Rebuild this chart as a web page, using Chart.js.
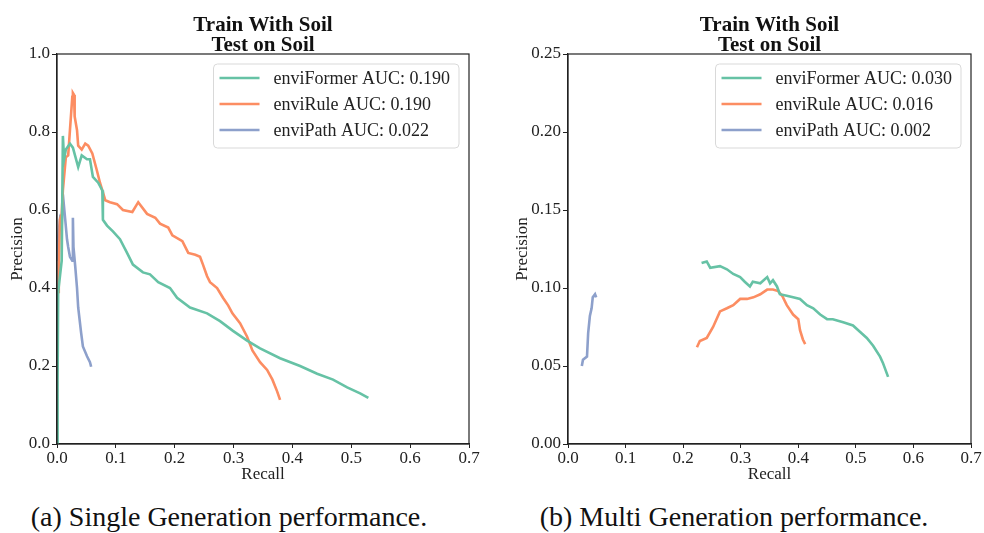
<!DOCTYPE html>
<html lang="en">
<head>
    <meta charset="UTF-8">
    <title>Train With Soil / Test on Soil</title>
    <script src="https://cdn.jsdelivr.net/npm/chart.js"></script>
    <style>
        body {
            margin: 0;
            background: #ffffff;
            width: 984px;
            height: 533px;
            position: relative;
            overflow: hidden;
            font-family: "Liberation Serif", serif;
        }
        canvas {
            position: absolute;
            top: 0;
        }
        #leftChart { left: 0; }
        #rightChart { left: 492px; }
        .caption {
            position: absolute;
            top: 503px;
            font-size: 28px;
            line-height: 28px;
            text-align: center;
            color: #111;
            white-space: nowrap;
        }
    </style>
</head>
<body>
    <canvas id="leftChart" width="492" height="490"></canvas>
    <canvas id="rightChart" width="492" height="490"></canvas>
    <div class="caption" style="left:0; width:458px;">(a) Single Generation performance.</div>
    <div class="caption" style="left:492px; width:484px;">(b) Multi Generation performance.</div>

    <script>
        // ---- tick labels ----
        const xTicks = [0, 0.1, 0.2, 0.3, 0.4, 0.5, 0.6, 0.7];
        const xTickLabels = ['0.0', '0.1', '0.2', '0.3', '0.4', '0.5', '0.6', '0.7'];
        const singleYTicks = [0, 0.2, 0.4, 0.6, 0.8, 1.0];
        const singleYTickLabels = ['0.0', '0.2', '0.4', '0.6', '0.8', '1.0'];
        const multiYTicks = [0, 0.05, 0.10, 0.15, 0.20, 0.25];
        const multiYTickLabels = ['0.00', '0.05', '0.10', '0.15', '0.20', '0.25'];

        const seriesNames = ['enviFormer', 'enviRule', 'enviPath'];
        const singleAUC = ['0.190', '0.190', '0.022'];
        const multiAUC = ['0.030', '0.016', '0.002'];

        // ---- (a) single generation: recall / precision ----
        const singleFormerRecall = [0, 0.001, 0.002, 0.008, 0.010, 0.012, 0.015, 0.022, 0.027, 0.036, 0.042, 0.051, 0.056, 0.061, 0.070, 0.077, 0.078, 0.085, 0.095, 0.107, 0.119, 0.129, 0.146, 0.158, 0.172, 0.192, 0.204, 0.226, 0.255, 0.277, 0.299, 0.323, 0.345, 0.379, 0.413, 0.442, 0.469, 0.493, 0.515, 0.529];
        const singleFormerPrecision = [0, 0.165, 0.39, 0.47, 0.79, 0.73, 0.755, 0.77, 0.76, 0.71, 0.74, 0.73, 0.73, 0.685, 0.67, 0.65, 0.575, 0.56, 0.545, 0.525, 0.49, 0.46, 0.44, 0.435, 0.415, 0.40, 0.375, 0.35, 0.335, 0.315, 0.29, 0.265, 0.245, 0.22, 0.20, 0.18, 0.165, 0.145, 0.13, 0.118];

        const singleRuleRecall = [0.002, 0.003, 0.005, 0.008, 0.010, 0.015, 0.019, 0.022, 0.026, 0.027, 0.029, 0.030, 0.034, 0.036, 0.042, 0.048, 0.053, 0.060, 0.068, 0.073, 0.082, 0.090, 0.102, 0.112, 0.128, 0.138, 0.153, 0.167, 0.175, 0.189, 0.196, 0.213, 0.223, 0.235, 0.243, 0.248, 0.255, 0.260, 0.272, 0.282, 0.291, 0.298, 0.311, 0.323, 0.332, 0.345, 0.357, 0.366, 0.374, 0.379];
        const singleRulePrecision = [0.39, 0.45, 0.575, 0.59, 0.65, 0.735, 0.74, 0.805, 0.89, 0.90, 0.895, 0.84, 0.805, 0.765, 0.755, 0.77, 0.765, 0.745, 0.70, 0.67, 0.625, 0.62, 0.615, 0.60, 0.595, 0.62, 0.59, 0.58, 0.565, 0.555, 0.535, 0.52, 0.49, 0.485, 0.48, 0.46, 0.43, 0.415, 0.40, 0.375, 0.355, 0.335, 0.31, 0.275, 0.24, 0.21, 0.19, 0.165, 0.135, 0.113];

        const singlePathRecall = [0.002, 0.002, 0.005, 0.008, 0.010, 0.014, 0.017, 0.019, 0.022, 0.026, 0.027, 0.028, 0.031, 0.034, 0.036, 0.041, 0.044, 0.051, 0.056, 0.058];
        const singlePathPrecision = [0.47, 0.53, 0.575, 0.56, 0.64, 0.575, 0.525, 0.505, 0.48, 0.47, 0.58, 0.505, 0.455, 0.40, 0.35, 0.285, 0.25, 0.225, 0.21, 0.198];

        // ---- (b) multi generation: recall / precision ----
        const multiFormerRecall = [0.232, 0.241, 0.247, 0.264, 0.276, 0.287, 0.299, 0.307, 0.316, 0.321, 0.334, 0.346, 0.351, 0.356, 0.363, 0.368, 0.380, 0.391, 0.403, 0.415, 0.426, 0.438, 0.450, 0.460, 0.478, 0.495, 0.507, 0.519, 0.530, 0.542, 0.547, 0.556];
        const multiFormerPrecision = [0.116, 0.117, 0.113, 0.114, 0.112, 0.109, 0.107, 0.104, 0.101, 0.104, 0.103, 0.107, 0.103, 0.105, 0.101, 0.096, 0.095, 0.094, 0.093, 0.089, 0.087, 0.083, 0.080, 0.080, 0.078, 0.076, 0.072, 0.068, 0.063, 0.056, 0.052, 0.043];

        const multiRuleRecall = [0.224, 0.229, 0.241, 0.252, 0.264, 0.276, 0.287, 0.299, 0.311, 0.322, 0.334, 0.346, 0.356, 0.365, 0.372, 0.380, 0.391, 0.400, 0.403, 0.408, 0.412];
        const multiRulePrecision = [0.062, 0.066, 0.068, 0.075, 0.085, 0.087, 0.089, 0.093, 0.093, 0.094, 0.096, 0.099, 0.099, 0.098, 0.095, 0.089, 0.083, 0.080, 0.073, 0.067, 0.064];

        const multiPathRecall = [0.024, 0.026, 0.033, 0.035, 0.038, 0.041, 0.043, 0.047, 0.049];
        const multiPathPrecision = [0.050, 0.054, 0.056, 0.071, 0.082, 0.087, 0.094, 0.096, 0.094];

        const colors = ['#66c2a5', '#fc8d62', '#8da0cb'];
        const FONT = '"Liberation Serif", "DejaVu Serif", serif';
        const INK = '#222';

        function pairs(xs, ys) {
            return xs.map((x, i) => ({ x: x, y: ys[i] }));
        }

        // titles, frame and legend drawn by hand (matplotlib look)
        const decorPlugin = {
            id: 'decor',
            afterDraw(chart, args, opts) {
                const { ctx, chartArea: a } = chart;
                ctx.save();

                // full box around the axes
                ctx.strokeStyle = INK;
                ctx.lineWidth = 1.2;
                ctx.strokeRect(a.left, a.top, a.right - a.left, a.bottom - a.top);

                // two line bold title
                const cx = (a.left + a.right) / 2;
                ctx.fillStyle = '#111';
                ctx.textAlign = 'center';
                ctx.textBaseline = 'alphabetic';
                ctx.font = 'bold 21px ' + FONT;
                ctx.fillText('Train With Soil', cx, 31);
                ctx.fillText('Test on Soil', cx, 51);

                // legend in upper right
                ctx.font = '18px ' + FONT;
                const labels = chart.data.datasets.map(d => d.label);
                const textW = Math.max(...labels.map(t => ctx.measureText(t).width));
                const boxW = 60 + textW + 9;
                const boxH = 84;
                const bx = a.right - 10 - boxW;
                const by = a.top + 10;
                ctx.beginPath();
                ctx.roundRect(bx, by, boxW, boxH, 4);
                ctx.fillStyle = 'rgba(255,255,255,0.85)';
                ctx.fill();
                ctx.strokeStyle = '#d9d9d9';
                ctx.lineWidth = 1;
                ctx.stroke();

                ctx.textAlign = 'left';
                ctx.textBaseline = 'middle';
                chart.data.datasets.forEach((d, i) => {
                    const y = by + 14 + i * 26;
                    ctx.strokeStyle = d.borderColor;
                    ctx.lineWidth = 2.5;
                    ctx.beginPath();
                    ctx.moveTo(bx + 6, y);
                    ctx.lineTo(bx + 46, y);
                    ctx.stroke();
                    ctx.fillStyle = '#222';
                    ctx.fillText(d.label, bx + 60, y + 1);
                });
                ctx.restore();
            }
        };

        function makeChart(canvasId, sets, aucs, yTicks, yTickLabels, yMax, yWidth, padLeft, padRight) {
            const datasets = sets.map((s, i) => ({
                label: seriesNames[i] + ' AUC: ' + aucs[i],
                data: pairs(s[0], s[1]),
                borderColor: colors[i],
                backgroundColor: colors[i],
                borderWidth: 2.6,
                pointRadius: 0,
                showLine: true,
                tension: 0
            }));

            return new Chart(document.getElementById(canvasId), {
                type: 'scatter',
                data: { datasets: datasets },
                options: {
                    responsive: false,
                    animation: false,
                    devicePixelRatio: 1,
                    layout: { padding: { top: 54, left: padLeft, right: padRight, bottom: 0 } },
                    plugins: {
                        legend: { display: false },
                        tooltip: { enabled: false },
                        title: { display: false }
                    },
                    scales: {
                        x: {
                            type: 'linear',
                            min: 0,
                            max: 0.7,
                            afterBuildTicks: s => { s.ticks = xTicks.map(v => ({ value: v })); },
                            afterFit: s => { s.height = 46; },
                            ticks: {
                                callback: (v, i) => xTickLabels[i],
                                font: { family: FONT, size: 17 },
                                color: INK,
                                padding: 0,
                                maxRotation: 0
                            },
                            grid: { display: true, drawOnChartArea: false, drawTicks: true, tickLength: 4, color: INK },
                            border: { display: true, color: INK, width: 1.2 },
                            title: {
                                display: true,
                                text: 'Recall',
                                font: { family: FONT, size: 17 },
                                color: INK,
                                padding: { top: 0, bottom: 5 }
                            }
                        },
                        y: {
                            type: 'linear',
                            min: 0,
                            max: yMax,
                            afterBuildTicks: s => { s.ticks = yTicks.map(v => ({ value: v })); },
                            afterFit: s => { s.width = yWidth; },
                            ticks: {
                                callback: (v, i) => yTickLabels[i],
                                font: { family: FONT, size: 17 },
                                color: INK,
                                padding: 2
                            },
                            grid: { display: true, drawOnChartArea: false, drawTicks: true, tickLength: 5, color: INK },
                            border: { display: true, color: INK, width: 1.2 },
                            title: {
                                display: true,
                                text: 'Precision',
                                font: { family: FONT, size: 17 },
                                color: INK,
                                padding: { top: 0, bottom: 0 }
                            }
                        }
                    }
                },
                plugins: [decorPlugin]
            });
        }

        makeChart('leftChart', [
            [singleFormerRecall, singleFormerPrecision],
            [singleRuleRecall, singleRulePrecision],
            [singlePathRecall, singlePathPrecision]
        ], singleAUC, singleYTicks, singleYTickLabels, 1.0, 50, 7, 23);

        makeChart('rightChart', [
            [multiFormerRecall, multiFormerPrecision],
            [multiRuleRecall, multiRulePrecision],
            [multiPathRecall, multiPathPrecision]
        ], multiAUC, multiYTicks, multiYTickLabels, 0.25, 56, 20, 13);
    </script>
</body>
</html>
